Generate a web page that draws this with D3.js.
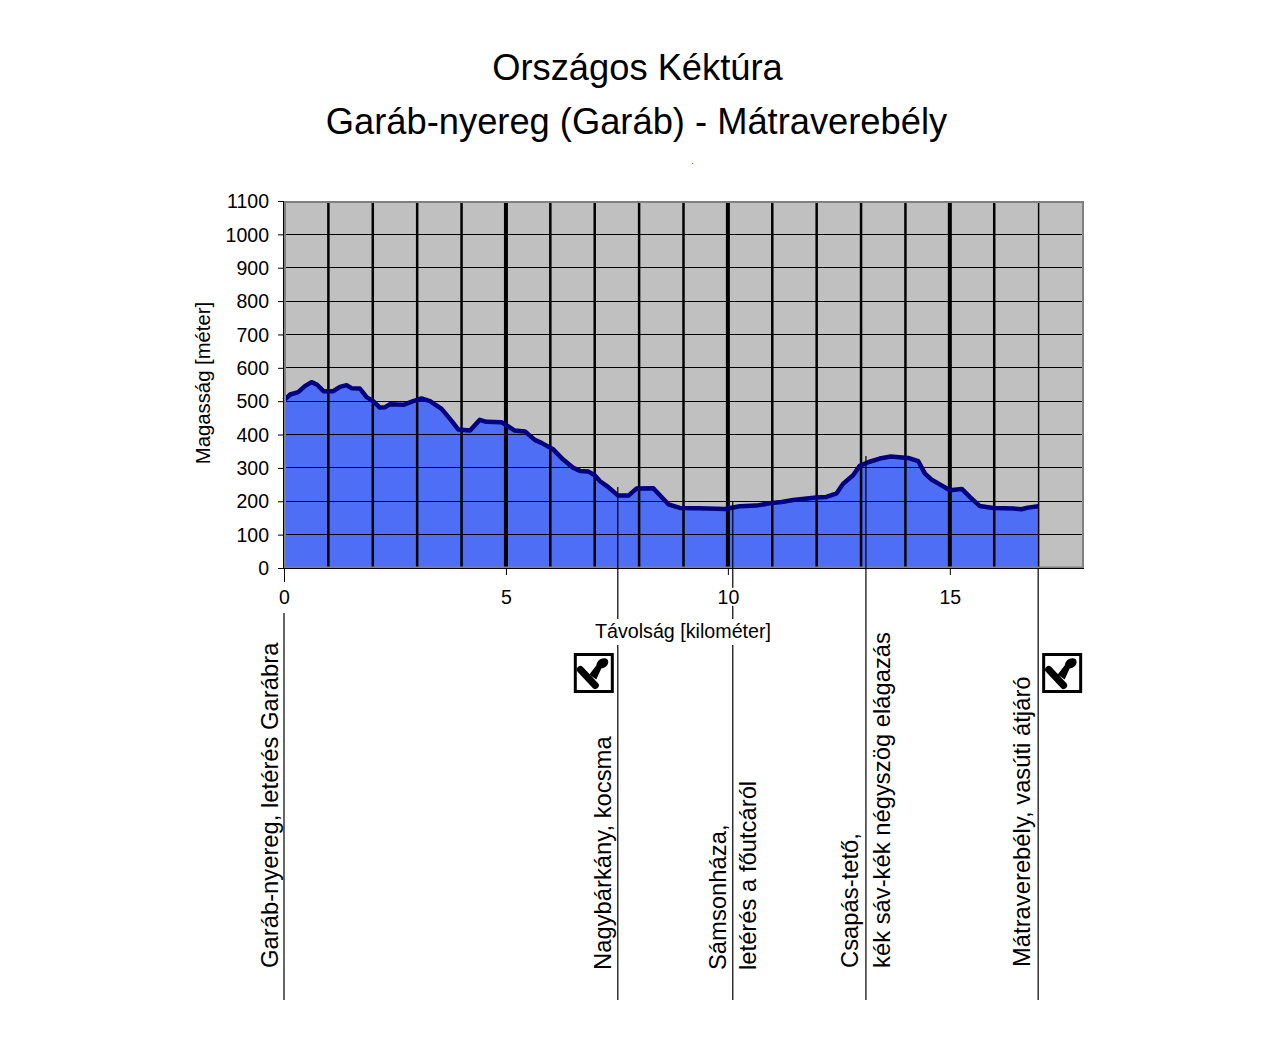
<!DOCTYPE html>
<html>
<head>
<meta charset="utf-8">
<script src="https://cdn.jsdelivr.net/npm/d3@7"></script>
<style>
body { margin: 0; background: #fff; }
text { font-family: "Liberation Sans", Arial, sans-serif; fill: #000; }
</style>
</head>
<body>
<div id="chart"></div>
<script>
// values
const titleLines = ["Országos Kéktúra", "Garáb-nyereg (Garáb) - Mátraverebély"];
const xLabel = "Távolság [kilométer]";
const yLabel = "Magasság [méter]";
const xTicks = [0, 5, 10, 15];
const yTicks = [0, 100, 200, 300, 400, 500, 600, 700, 800, 900, 1000, 1100];
const kmGrid = d3.range(1, 18);

const distance = [0, 0.14, 0.32, 0.47, 0.62, 0.74, 0.89, 1.11, 1.26, 1.41, 1.52, 1.71, 1.86, 2.01, 2.16, 2.28, 2.39, 2.69, 2.91, 3.10, 3.29, 3.55, 3.74, 3.93, 4.19, 4.41, 4.56, 4.90, 5.20, 5.43, 5.65, 5.80, 6.07, 6.29, 6.52, 6.67, 6.86, 7.00, 7.12, 7.30, 7.53, 7.76, 7.94, 8.32, 8.49, 8.66, 8.92, 9.33, 9.93, 10.27, 10.64, 10.94, 11.21, 11.47, 11.99, 12.22, 12.45, 12.60, 12.82, 12.97, 13.16, 13.42, 13.67, 14.06, 14.29, 14.44, 14.59, 15.00, 15.27, 15.45, 15.67, 15.98, 16.43, 16.61, 16.76, 16.99];
const elevation = [503, 520, 527, 545, 557, 550, 530, 530, 543, 548, 539, 538, 512, 500, 481, 482, 491, 489, 500, 508, 500, 477, 447, 415, 412, 444, 438, 437, 412, 409, 384, 375, 355, 325, 300, 291, 289, 278, 260, 243, 217, 217, 238, 239, 215, 191, 180, 179, 177, 185, 187, 194, 198, 204, 211, 213, 224, 253, 278, 306, 317, 328, 334, 330, 320, 283, 265, 233, 237, 213, 186, 180, 178, 176, 181, 185];

const stopKm = [0, 7.52, 10.11, 13.11, 16.99];
const stopTop = [null, 243, 198, 336, 0];
const stopLabels = [
  ["Garáb-nyereg, letérés Garábra"],
  ["Nagybárkány, kocsma"],
  ["Sámsonháza,", "letérés a főutcáról"],
  ["Csapás-tető,", "kék sáv-kék négyszög elágazás"],
  ["Mátraverebély, vasúti átjáró"]
];
const stampStops = [1, 4];

const svg = d3.select("#chart").append("svg")
  .attr("width", 1280)
  .attr("height", 1050)
  .style("display", "block");

const x = d3.scaleLinear().domain([0, 18]).range([284, 1083]);
const y = d3.scaleLinear().domain([0, 1100]).range([568, 201]);
const points = distance.map((d, i) => [d, elevation[i]]);

// title
svg.selectAll(".title").data(titleLines).enter().append("text")
  .attr("x", (d, i) => i ? 636.5 : 637.5)
  .attr("y", (d, i) => 80 + i * 54)
  .attr("text-anchor", "middle")
  .style("font-size", "36.3px")
  .text(d => d);

// stray blue pixel under the title in the original
svg.append("rect").attr("x", 692).attr("y", 163).attr("width", 1).attr("height", 1).attr("fill", "#3050ff");

// plot background
svg.append("rect")
  .attr("x", x(0)).attr("y", y(1100))
  .attr("width", x(18) - x(0)).attr("height", y(0) - y(1100))
  .attr("fill", "#c0c0c0");

// profile
svg.append("path").datum(points)
  .attr("fill", "#4d6ef5")
  .attr("d", d3.area().x(d => x(d[0])).y0(y(0)).y1(d => y(d[1])));

// grid
svg.append("g").selectAll("line").data(yTicks.slice(1)).enter().append("line")
  .attr("x1", x(0)).attr("x2", x(18))
  .attr("y1", d => y(d)).attr("y2", d => y(d))
  .attr("stroke", "#000").attr("stroke-width", 1)
  .attr("shape-rendering", "crispEdges");
svg.append("g").selectAll("line").data(kmGrid).enter().append("line")
  .attr("x1", d => x(d)).attr("x2", d => x(d))
  .attr("y1", y(1100)).attr("y2", y(0))
  .attr("stroke", "#000")
  .attr("stroke-width", d => d === 17 ? 1.5 : d % 5 === 0 ? 4 : 2.5);

svg.append("path").datum(points)
  .attr("fill", "none")
  .attr("stroke", "#000080")
  .attr("stroke-width", 4.5)
  .attr("stroke-linejoin", "round")
  .attr("d", d3.line().x(d => x(d[0])).y(d => y(d[1])));

// frame: gray inside, black axis lines outside
svg.append("rect")
  .attr("x", x(0) + 1).attr("y", y(1100) + 1)
  .attr("width", x(18) - x(0) - 1).attr("height", y(0) - y(1100) - 1.5)
  .attr("fill", "none").attr("stroke", "#808080").attr("stroke-width", 2);
svg.append("line")
  .attr("x1", x(0)).attr("x2", x(18) + 1).attr("y1", y(0) + 0.5).attr("y2", y(0) + 0.5)
  .attr("stroke", "#000");
svg.append("line")
  .attr("x1", x(0) - 0.5).attr("x2", x(0) - 0.5).attr("y1", y(1100)).attr("y2", y(0) + 1)
  .attr("stroke", "#000");

// long stop lines
svg.append("g").selectAll("line").data(stopKm).enter().append("line")
  .attr("x1", d => x(d)).attr("x2", d => x(d))
  .attr("y1", (d, i) => stopTop[i] === null ? 613 : y(stopTop[i]))
  .attr("y2", 1000)
  .attr("stroke", "#000").attr("stroke-width", 1.2);

// axes
const xAxis = svg.append("g")
  .attr("transform", "translate(0," + y(0) + ")")
  .call(d3.axisBottom(x).tickValues(xTicks).tickSize(7).tickPadding(15).tickFormat(d3.format("d")));
const yAxis = svg.append("g")
  .attr("transform", "translate(" + x(0) + ",0)")
  .call(d3.axisLeft(y).tickValues(yTicks).tickSize(6).tickPadding(9).tickFormat(d3.format("d")));
[xAxis, yAxis].forEach(a => {
  a.select(".domain").remove();
  a.selectAll("text").style("font-size", "19.5px")
    .style("font-family", '"Liberation Sans", Arial, sans-serif');
  a.selectAll("line").attr("stroke", "#000");
});
yAxis.selectAll("text").attr("dy", "0.34em");
xAxis.selectAll("line").attr("y2", d => d === 0 ? 14 : 7);

// white box behind x tick labels, the stop lines break around them
xAxis.selectAll(".tick").each(function () {
  const tick = d3.select(this);
  const b = tick.select("text").node().getBBox();
  tick.insert("rect", "text")
    .attr("x", b.x).attr("y", b.y + 2)
    .attr("width", b.width).attr("height", b.height - 4)
    .attr("fill", "#fff");
});

// axis titles, same white box
const xBox = svg.append("rect").attr("fill", "#fff");
const xt = svg.append("text")
  .attr("x", 683).attr("y", 638)
  .attr("text-anchor", "middle")
  .style("font-size", "19.7px")
  .text(xLabel);
const bb = xt.node().getBBox();
xBox.attr("x", bb.x - 2).attr("y", bb.y - 1)
  .attr("width", bb.width + 4).attr("height", bb.height + 4);

svg.append("text")
  .attr("transform", "translate(210,383) rotate(-90)")
  .attr("text-anchor", "middle")
  .style("font-size", "20.3px")
  .text(yLabel);

// stop names, read bottom to top
const labelDx = [[-6], [-7], [-6.5, 23], [-8, 24], [-8]];
const labelBottom = [968, 970, 970, 968, 967];
stopLabels.forEach((lines, i) => {
  lines.forEach((line, j) => {
    svg.append("text")
      .attr("transform", "translate(" + (x(stopKm[i]) + labelDx[i][j]) + "," + labelBottom[i] + ") rotate(-90)")
      .style("font-size", "23.8px")
      .text(line);
  });
});

// stamp boxes
stampStops.forEach(i => {
  const bx = i === 1 ? x(stopKm[i]) - 42.5 : x(stopKm[i]) + 5.5;
  const g = svg.append("g").attr("transform", "translate(" + bx + ",654.5)");
  g.append("rect").attr("width", 37).attr("height", 37)
    .attr("fill", "#fff").attr("stroke", "#000").attr("stroke-width", 3);
  g.append("line").attr("x1", 5).attr("y1", 15).attr("x2", 20).attr("y2", 31)
    .attr("stroke", "#000").attr("stroke-width", 7).attr("stroke-linecap", "round");
  g.append("path")
    .attr("d", "M14,20 L21,11 Q22,5 27,4 Q33,3 33,8 Q32,13 26,14 L21,25 Z")
    .attr("fill", "#000");
});
</script>
</body>
</html>
